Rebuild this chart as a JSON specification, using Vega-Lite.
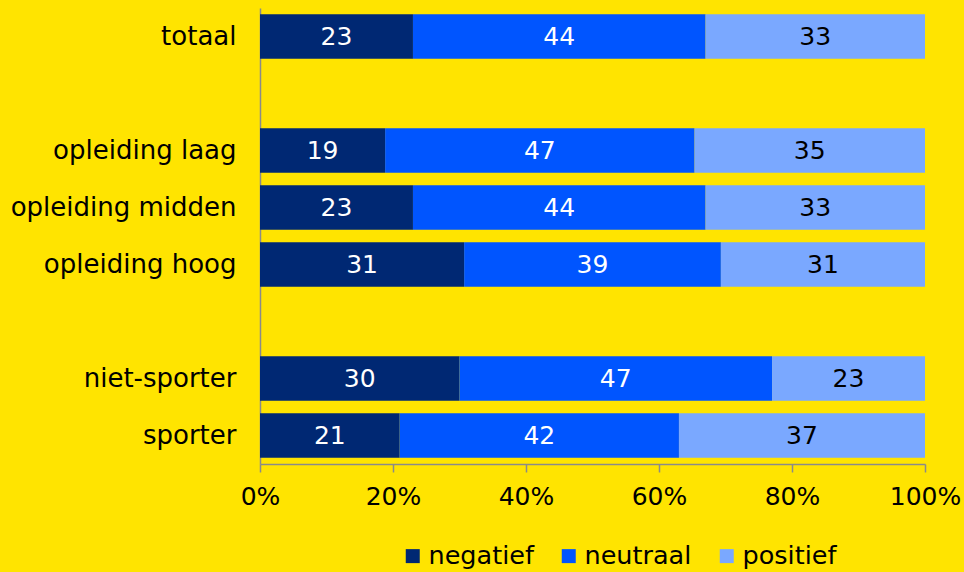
{
  "$schema": "https://vega.github.io/schema/vega-lite/v6.json",
  "width": 665,
  "height": 456,
  "autosize": {"type": "none"},
  "padding": {"left": 260, "top": 8, "right": 39, "bottom": 108},
  "background": "#FFE400",
  "config": {"font": "DejaVu Sans", "view": {"stroke": null}},
  "data": {
    "values": [
      {"cat": "totaal", "resp": "negatief", "value": 23},
      {"cat": "totaal", "resp": "neutraal", "value": 44},
      {"cat": "totaal", "resp": "positief", "value": 33},
      {"cat": "opleiding laag", "resp": "negatief", "value": 19},
      {"cat": "opleiding laag", "resp": "neutraal", "value": 47},
      {"cat": "opleiding laag", "resp": "positief", "value": 35},
      {"cat": "opleiding midden", "resp": "negatief", "value": 23},
      {"cat": "opleiding midden", "resp": "neutraal", "value": 44},
      {"cat": "opleiding midden", "resp": "positief", "value": 33},
      {"cat": "opleiding hoog", "resp": "negatief", "value": 31},
      {"cat": "opleiding hoog", "resp": "neutraal", "value": 39},
      {"cat": "opleiding hoog", "resp": "positief", "value": 31},
      {"cat": "niet-sporter", "resp": "negatief", "value": 30},
      {"cat": "niet-sporter", "resp": "neutraal", "value": 47},
      {"cat": "niet-sporter", "resp": "positief", "value": 23},
      {"cat": "sporter", "resp": "negatief", "value": 21},
      {"cat": "sporter", "resp": "neutraal", "value": 42},
      {"cat": "sporter", "resp": "positief", "value": 37}
    ]
  },
  "transform": [
    {"stack": "value", "groupby": ["cat"], "sort": [{"field": "resp", "order": "ascending"}], "as": ["v0", "v1"], "offset": "normalize"}
  ],
  "encoding": {
    "y": {
      "field": "cat",
      "type": "nominal",
      "scale": {
        "domain": ["totaal", " ", "opleiding laag", "opleiding midden", "opleiding hoog", "  ", "niet-sporter", "sporter"],
        "paddingInner": 0.22,
        "paddingOuter": 0.11
      },
      "axis": {
        "title": null,
        "ticks": false,
        "domainColor": "#8a8a8a",
        "domainWidth": 1.5,
        "labelFontSize": 26,
        "labelColor": "#000000",
        "labelPadding": 24,
        "labelLimit": 400
      }
    }
  },
  "layer": [
    {
      "mark": {"type": "bar"},
      "encoding": {
        "x": {
          "field": "v0",
          "type": "quantitative",
          "scale": {"domain": [0, 1], "nice": false},
          "axis": {
            "title": null,
            "grid": false,
            "format": "%",
            "values": [0, 0.2, 0.4, 0.6, 0.8, 1],
            "labelFlush": false,
            "labelOverlap": false,
            "domainColor": "#8a8a8a",
            "domainWidth": 1.5,
            "tickColor": "#8a8a8a",
            "tickWidth": 1.5,
            "tickSize": 8,
            "labelFontSize": 25,
            "labelColor": "#000000",
            "labelPadding": 12
          }
        },
        "x2": {"field": "v1"},
        "color": {
          "field": "resp",
          "type": "nominal",
          "scale": {"domain": ["negatief", "neutraal", "positief"], "range": ["#002873", "#0055FF", "#7AA8FF"]},
          "legend": {
            "title": null,
            "orient": "none",
            "direction": "horizontal",
            "legendX": 140,
            "legendY": 535,
            "symbolType": "square",
            "symbolSize": 196,
            "symbolStrokeWidth": 0,
            "labelFontSize": 25.5,
            "labelColor": "#000000",
            "labelOffset": 3,
            "columnPadding": 22
          }
        }
      }
    },
    {
      "transform": [{"calculate": "(datum.v0 + datum.v1) / 2", "as": "vmid"}],
      "mark": {"type": "text", "fontSize": 25, "baseline": "middle", "align": "center"},
      "encoding": {
        "x": {"field": "vmid", "type": "quantitative"},
        "text": {"field": "value", "type": "quantitative"},
        "color": {"condition": {"test": "datum.resp === 'positief'", "value": "#000000"}, "value": "#FFFFFF"}
      }
    }
  ]
}
